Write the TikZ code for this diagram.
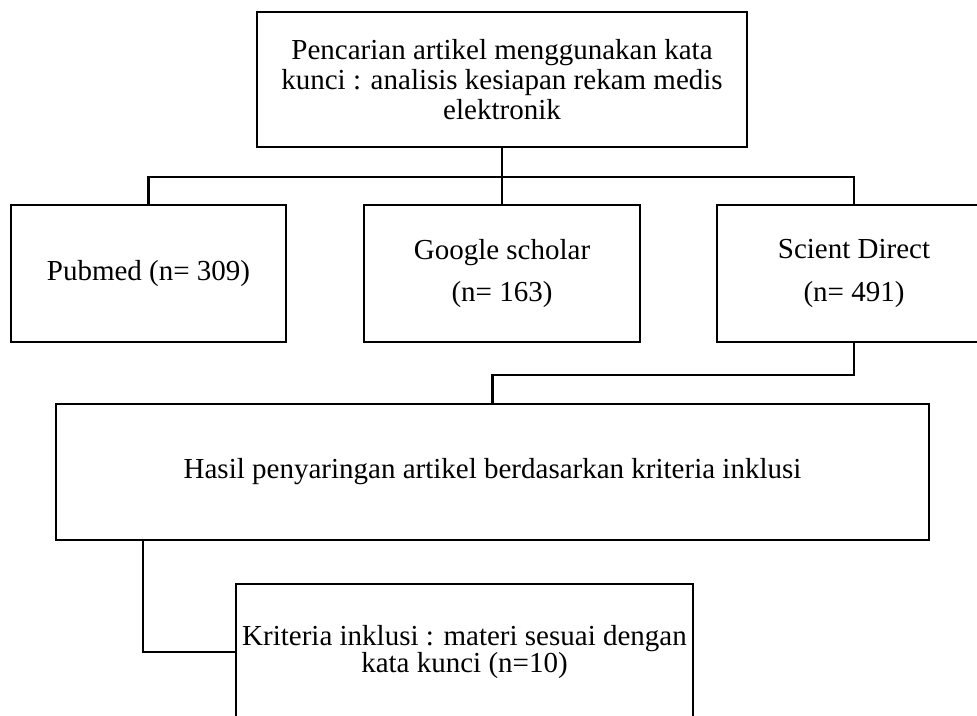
\documentclass[tikz,border=0pt]{standalone}
\usepackage{fontspec}
\setmainfont{Liberation Serif}
\begin{document}
\begin{tikzpicture}[x=0.75pt,y=-0.75pt,
  box/.style={draw=black, line width=2pt, rectangle, inner sep=0pt, outer sep=0pt,
    align=center, font=\fontsize{21.75pt}{22.5pt}\selectfont},
  link/.style={draw=black, line width=2pt}]
\useasboundingbox (0,0) rectangle (977,716);
\clip (0,0) rectangle (977,716);
\node[box, minimum width=367.5pt, minimum height=101.25pt] (top) at (502,79.5)
  {Pencarian artikel menggunakan kata\\kunci : analisis kesiapan rekam medis\\elektronik};
\node[box, minimum width=206.25pt, minimum height=102.75pt] (pub) at (148.5,273.5)
  {Pubmed (n= 309)};
\node[box, minimum width=207pt, minimum height=102.75pt] (goo) at (502,273.5)
  {Google scholar\\[9.5pt](n= 163)};
\node[box, minimum width=205.5pt, minimum height=102.75pt] (sci) at (854,273.5)
  {Scient Direct\\[9.5pt](n= 491)};
\node[box, minimum width=654.75pt, minimum height=102pt] (hasil) at (492.5,472)
  {Hasil penyaringan artikel berdasarkan kriteria inklusi};
\node[box, minimum width=342.75pt, minimum height=102pt] (krit) at (464.5,652)
  {Kriteria inklusi : materi sesuai dengan\\[-2pt]kata kunci (n=10)};
\coordinate (j1) at (502,177);
\coordinate (j3) at (143,540);
\draw[link] (top.south) -- (goo.north);
\draw[link] (pub.north) |- (j1) -| (sci.north);
\draw[link] (sci.south) -- ++(0,33) -| (hasil.north);
\draw[link] (j3) |- (krit.west);
\end{tikzpicture}
\end{document}
